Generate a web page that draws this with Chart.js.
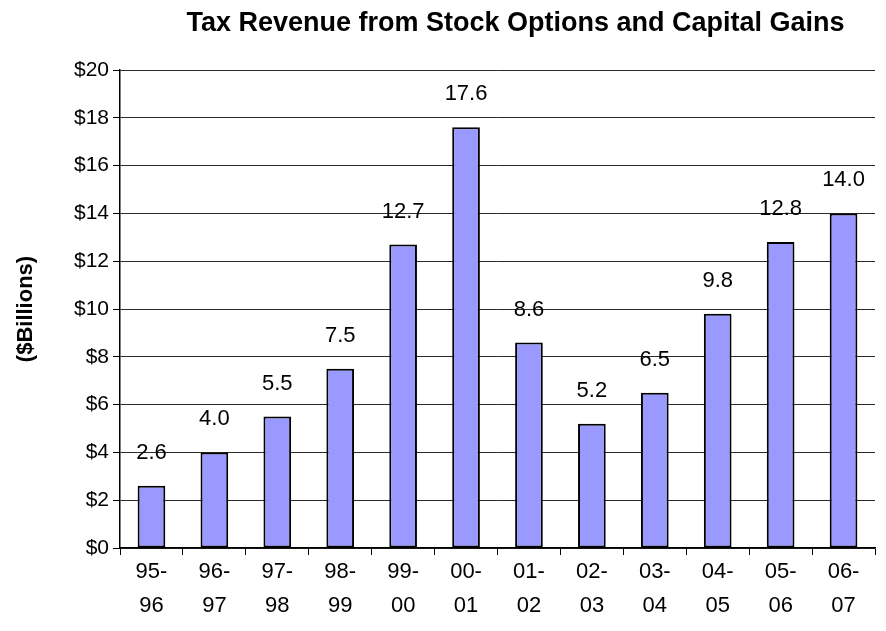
<!DOCTYPE html>
<html>
<head>
<meta charset="utf-8">
<script src="https://cdn.jsdelivr.net/npm/chart.js@4/dist/chart.umd.min.js"></script>
<style>
  html, body { margin: 0; padding: 0; background: #fff; }
  #wrap { width: 886px; height: 631px; }
</style>
</head>
<body>
<div id="wrap"><canvas id="revChart" width="886" height="631"></canvas></div>
<script>
const chartTitle = 'Tax Revenue from Stock Options and Capital Gains';
const axisTitle = '($Billions)';
const fiscalYears = [
  ['95-', '96'], ['96-', '97'], ['97-', '98'], ['98-', '99'],
  ['99-', '00'], ['00-', '01'], ['01-', '02'], ['02-', '03'],
  ['03-', '04'], ['04-', '05'], ['05-', '06'], ['06-', '07']
];
const revenue = [2.6, 4.0, 5.5, 7.5, 12.7, 17.6, 8.6, 5.2, 6.5, 9.8, 12.8, 14.0];
const yMin = 0, yMax = 20, yStep = 2;

const fontFam = '"Liberation Sans", Arial, sans-serif';

// value labels drawn above each bar
const valueLabels = {
  id: 'valueLabels',
  afterDatasetsDraw(chart) {
    const ctx = chart.ctx;
    const meta = chart.getDatasetMeta(0);
    ctx.save();
    ctx.font = '22px ' + fontFam;
    ctx.fillStyle = '#000';
    ctx.textAlign = 'center';
    ctx.textBaseline = 'middle';
    meta.data.forEach((bar, i) => {
      ctx.fillText(revenue[i].toFixed(1), bar.x, bar.y - 33);
    });
    ctx.restore();
  }
};

const topTitle = {
  id: 'topTitle',
  afterDraw(chart) {
    const ctx = chart.ctx;
    const area = chart.chartArea;
    ctx.save();
    ctx.font = 'bold 27px ' + fontFam;
    ctx.fillStyle = '#000';
    ctx.textAlign = 'center';
    ctx.textBaseline = 'middle';
    ctx.fillText(chartTitle, (area.left + area.right) / 2 + 18, 24);
    ctx.restore();
  }
};

new Chart(document.getElementById('revChart'), {
  type: 'bar',
  data: {
    labels: fiscalYears,
    datasets: [{
      label: 'Revenue',
      data: revenue,
      backgroundColor: '#9999ff',
      borderColor: '#000',
      borderWidth: 2,
      borderSkipped: false,
      categoryPercentage: 1.0,
      barPercentage: 0.44
    }]
  },
  options: {
    responsive: false,
    animation: false,
    devicePixelRatio: 1,
    layout: { padding: { top: 70, right: 11, left: 0, bottom: 0 } },
    plugins: {
      legend: { display: false },
      tooltip: { enabled: false },
      title: { display: false }
    },
    scales: {
      x: {
        grid: {
          offset: true,
          drawOnChartArea: false,
          color: '#000',
          tickLength: 7
        },
        border: { color: '#000', width: 1.5 },
        ticks: {
          color: '#000',
          padding: 0,
          maxRotation: 0,
          font: { family: fontFam, size: 22, lineHeight: 1.55 }
        },
        afterFit(scale) { scale.height = 83; }
      },
      y: {
        min: yMin,
        max: yMax,
        grid: {
          color: '#2a2a2a',
          lineWidth: 1,
          tickLength: 7,
          tickColor: '#000'
        },
        border: { color: '#000', width: 1.5 },
        ticks: {
          stepSize: yStep,
          color: '#000',
          padding: 4,
          font: { family: fontFam, size: 21 },
          callback: v => '$' + v
        },
        title: {
          display: true,
          text: axisTitle,
          color: '#000',
          padding: { top: 13, bottom: 0 },
          font: { family: fontFam, size: 22, weight: 'bold' }
        },
        afterFit(scale) { scale.width = 120; }
      }
    }
  },
  plugins: [valueLabels, topTitle]
});
</script>
</body>
</html>
